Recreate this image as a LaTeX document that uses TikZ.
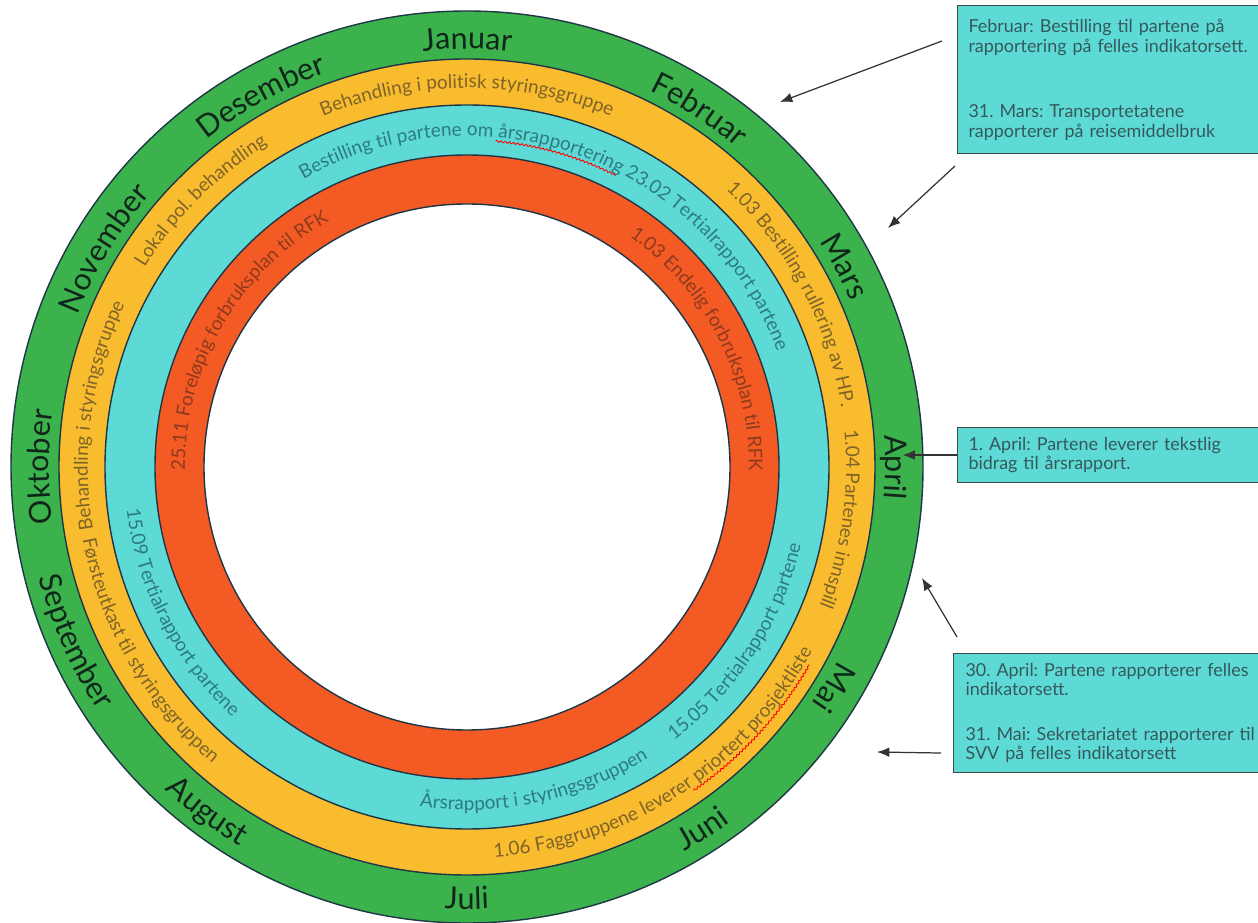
\documentclass[tikz,border=0pt]{standalone}
\usepackage{fontspec}
\setmainfont{Lato}
\usetikzlibrary{arrows.meta,decorations.text,decorations.pathmorphing}
\frenchspacing

\definecolor{ringgreen}{HTML}{3CB24D}
\definecolor{ringyellow}{HTML}{F9BC2E}
\definecolor{ringcyan}{HTML}{5DDAD6}
\definecolor{ringred}{HTML}{F35A24}
\definecolor{ringline}{HTML}{1E3646}
\definecolor{monthtext}{HTML}{10261A}
\definecolor{yellowtext}{HTML}{7E6429}
\definecolor{cyantext}{HTML}{2E7B7F}
\definecolor{redtext}{HTML}{8E3A1E}
\definecolor{boxtext}{HTML}{35595A}
\definecolor{boxline}{HTML}{3A4A4A}
\definecolor{arrowline}{HTML}{333333}

\newcommand{\monthfmt}{\fontsize{17.4}{20}\selectfont\color{monthtext}}
\newcommand{\yellowfmt}{\fontsize{10.8}{13}\selectfont\color{yellowtext}}
\newcommand{\cyanfmt}{\fontsize{10.8}{13}\selectfont\color{cyantext}}
\newcommand{\redfmt}{\fontsize{10.8}{13}\selectfont\color{redtext}}

% text along a ring: clockwise (letters face out) / counter-clockwise (letters face in)
\newcommand{\cwtext}[4]{%
  \path[decorate, decoration={text along path, text align=center, text={|#3|#4}}]
    ([shift={({#2+80}:#1)}]c) arc[start angle={#2+80}, end angle={#2-80}, radius=#1];}
\newcommand{\ccwtext}[4]{%
  \path[decorate, decoration={text along path, text align=center, text={|#3|#4}}]
    ([shift={({#2-80}:#1)}]c) arc[start angle={#2-80}, end angle={#2+80}, radius=#1];}

\tikzset{
  ring/.style={draw=ringline, line width=0.8pt},
  infobox/.style={rectangle, draw=boxline, line width=0.6pt, fill=ringcyan,
    anchor=north west, text width=6.3cm, inner xsep=0.22cm, align=left,
    text=boxtext, font=\fontsize{10.2}{11.2}\selectfont},
  pointer/.style={draw=arrowline, line width=0.7pt, -{Latex[length=7pt,width=5.5pt]}},
  spellcheck/.style={draw=red, line width=0.5pt, decorate,
    decoration={snake, amplitude=0.5pt, segment length=2.4pt}}
}

\begin{document}
\begin{tikzpicture}[x=0.02cm, y=0.02cm]
  % Frame
  \clip (0,0) rectangle (1258,923);
  \fill[white] (0,0) rectangle (1258,923);
  \coordinate (c) at (467,456);

  % Rings
  \draw[ring, fill=ringgreen]  (c) circle[radius=456];
  \draw[ring, fill=ringyellow] (c) circle[radius=408];
  \draw[ring, fill=ringcyan]   (c) circle[radius=362];
  \draw[ring, fill=ringred]    (c) circle[radius=312];
  \draw[ring, fill=white]      (c) circle[radius=263];

  % Months
  \cwtext{418}{90}{\monthfmt}{Januar}
  \cwtext{418}{57}{\monthfmt}{Februar}
  \cwtext{418}{28}{\monthfmt}{Mars}
  \cwtext{418}{0}{\monthfmt}{April}
  \cwtext{418}{-31}{\monthfmt}{Mai}
  \ccwtext{442}{-57}{\monthfmt}{Juni}
  \ccwtext{442}{-90}{\monthfmt}{Juli}
  \ccwtext{442}{-127}{\monthfmt}{August}
  \ccwtext{442}{-156}{\monthfmt}{September}
  \cwtext{418}{180}{\monthfmt}{Oktober}
  \cwtext{418}{149}{\monthfmt}{November}
  \cwtext{418}{119}{\monthfmt}{Desember}

  % Yellow ring
  \cwtext{379}{90}{\yellowfmt}{Behandling i politisk styringsgruppe}
  \cwtext{379}{28}{\yellowfmt}{1.03 Bestilling rullering av HP.}
  \cwtext{379}{-8}{\yellowfmt}{1.04 Partenes innspill}
  \ccwtext{391}{-57}{\yellowfmt}{1.06 Faggruppene leverer priortert prosjektliste}
  \ccwtext{391}{-150}{\yellowfmt}{Førsteutkast til styringsgruppen}
  \cwtext{379}{172}{\yellowfmt}{Behandling i styringsgruppe}
  \cwtext{379}{135}{\yellowfmt}{Lokal pol. behandling}

  % Cyan ring
  \cwtext{331}{91}{\cyanfmt}{Bestilling til partene om årsrapportering}
  \cwtext{331}{41}{\cyanfmt}{23.02 Tertialrapport partene}
  \ccwtext{343}{-33}{\cyanfmt}{15.05 Tertialrapport partene}
  \ccwtext{343}{-78}{\cyanfmt}{Årsrapport i styringsgruppen}
  \ccwtext{343}{-153}{\cyanfmt}{15.09 Tertialrapport partene}

  % Red ring
  \cwtext{282}{150}{\redfmt}{25.11 Foreløpig forbruksplan til RFK}
  \cwtext{282}{27}{\redfmt}{1.03 Endelig forbruksplan til RFK}

  % Spelling marks
  \draw[spellcheck] ([shift={(85:327)}]c) arc[start angle=85, end angle=63, radius=327];
  \draw[spellcheck] ([shift={(-55:395)}]c) arc[start angle=-55, end angle=-30, radius=395];

  % Info boxes
  \node[infobox, minimum height=2.96cm] (box1) at (957,918)
    {Februar: Bestilling til partene på\\rapportering på felles indikatorsett.\\[26pt]
     31. Mars: Transportetatene\\rapporterer på reisemiddelbruk};
  \node[infobox, minimum height=1.1cm] (box2) at (957,496)
    {1. April: Partene leverer tekstlig\\bidrag til årsrapport.};
  \node[infobox, minimum height=2.38cm, inner xsep=0.24cm] (box3) at (953,270)
    {30. April: Partene rapporterer felles\\indikatorsett.\\[14pt]
     31. Mai: Sekretariatet rapporterer til\\SVV på felles indikatorsett};

  % Arrow tips
  \coordinate (febtip) at (780,821);
  \coordinate (martip) at (888,695);
  \coordinate (aprtip) at ([xshift=-31]box2.west);
  \coordinate (apr30tip) at (922,345);
  \coordinate (maitip) at (877,171);

  % Arrows
  \draw[pointer] ([shift={(-15,-36)}]box1.north west) -- (febtip);
  \draw[pointer] ([shift={(-2,-12)}]box1.south west) -- (martip);
  \draw[pointer] (box2.west) -- (aprtip);
  \draw[pointer] ([shift={(4,16)}]box3.north west) -- (apr30tip);
  \draw[pointer] ([shift={(-12,20)}]box3.south west) -- (maitip);
\end{tikzpicture}
\end{document}
